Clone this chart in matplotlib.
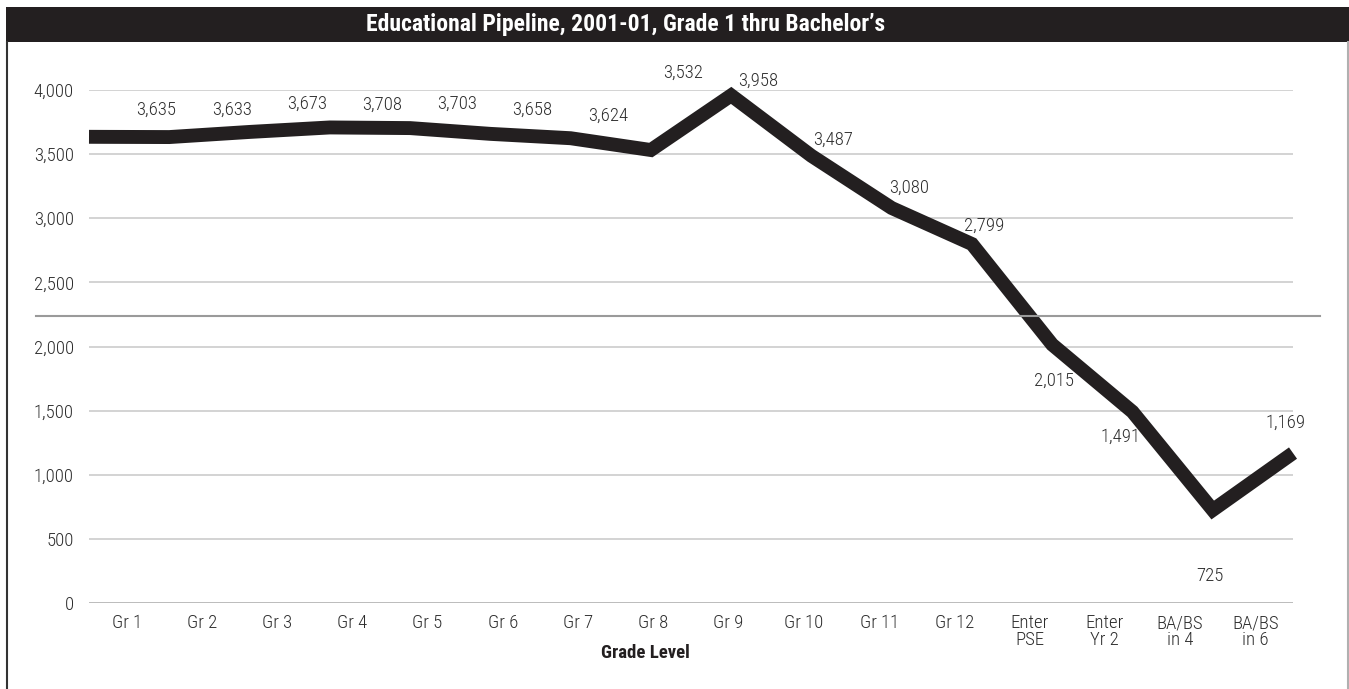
import matplotlib
matplotlib.use("Agg")
import matplotlib.pyplot as plt
from matplotlib.lines import Line2D
from matplotlib.patches import Rectangle
from matplotlib.ticker import FuncFormatter
import numpy as np

# enrolment counts along the pipeline
grades = ["Gr 1", "Gr 2", "Gr 3", "Gr 4", "Gr 5", "Gr 6", "Gr 7", "Gr 8",
          "Gr 9", "Gr 10", "Gr 11", "Gr 12", "Enter\nPSE", "Enter\nYr 2",
          "BA/BS\nin 4", "BA/BS\nin 6"]
students = [3635, 3633, 3673, 3708, 3703, 3658, 3624, 3532,
            3958, 3487, 3080, 2799, 2015, 1491, 725, 1169]
y_ticks = [0, 500, 1000, 1500, 2000, 2500, 3000, 3500, 4000]

# nudge of each value label, in pixels
label_dx = [0, 0, 0, 0, 0, 0, 0, 0, 0, 0, 0, 0, -5, -14, 0, 0]
label_dy = [27, 27, 28, 23, 24, 24, 22, 77, 15, 16, 20, 18, -36, -25, -66, 30]

TITLE = "Educational Pipeline, 2001-01, Grade 1 thru Bachelor\u2019s"
FONT = ["Liberation Sans Narrow", "Roboto Condensed", "Noto Sans Condensed",
        "Open Sans Condensed", "DejaVu Sans Condensed", "Noto Sans", "DejaVu Sans"]
INK = "#231f20"
TXT = "#2e2e2e"

plt.rcParams["font.family"] = FONT
plt.rcParams["font.stretch"] = "condensed"

W, H = 1349, 689
fig = plt.figure(figsize=(W / 100, H / 100), dpi=100)
ax = fig.add_axes([89 / W, 1 - 603 / H, 1204 / W, 513 / H])

n = len(students)
xs = np.arange(n)
ax.set_xlim(0, n - 1)
ax.set_ylim(0, 4000)

# category slots are spread evenly across the width, the line runs edge to edge
slot = (n - 1) / n
centers = (xs + 0.5) * slot

for v in y_ticks[1:]:
    ax.axhline(v, color="#c8c8c8", lw=1.1, zorder=1)
ax.axhline(0, color="#a8a8a8", lw=1.8, zorder=1)

ax.plot(xs, students, color=INK, lw=10, solid_joinstyle="miter",
        solid_capstyle="butt", zorder=3, clip_on=False)

for i, v in enumerate(students):
    ax.annotate(f"{v:,}", xy=(centers[i] + 0.37, v),
                xytext=(label_dx[i] * 0.72, label_dy[i] * 0.72),
                textcoords="offset points", ha="center", va="center",
                fontsize=13.5, fontweight="light", color=TXT,
                annotation_clip=False, zorder=4)

ax.set_yticks(y_ticks)
ax.yaxis.set_major_formatter(FuncFormatter(lambda v, p: f"{int(v):,}"))
ax.set_xticks(centers)
ax.set_xticklabels(grades, linespacing=0.95)
ax.tick_params(axis="both", length=0, labelsize=13.5, labelcolor=TXT)
for lab in ax.get_xticklabels() + ax.get_yticklabels():
    lab.set_fontweight("light")
ax.tick_params(axis="y", pad=11)
ax.tick_params(axis="x", pad=8)
for s in ax.spines.values():
    s.set_visible(False)

fig.text(645 / W, 1 - 653 / H, "Grade Level", ha="center", va="center",
         fontsize=13.5, fontweight="bold", color=INK)

# title band and frame
fig.add_artist(Rectangle((6 / W, 1 - 42 / H), 1 - 6 / W, 35 / H,
                         transform=fig.transFigure, color=INK, lw=0))
fig.text(626 / W, 1 - 24.5 / H, TITLE, ha="center", va="center",
         fontsize=17, fontweight="bold", color="white")
fig.add_artist(Line2D([6.5 / W, 6.5 / W], [0, 1 - 42 / H], color="#333333", lw=1.5))
fig.add_artist(Line2D([1 - 1.5 / W, 1 - 1.5 / W], [0, 1 - 42 / H], color="#b0b0b0", lw=1.5))
fig.add_artist(Line2D([36 / W, 1320 / W], [1 - 316 / H, 1 - 316 / H], color="#9a9a9a", lw=1.5))

fig.savefig("out.png", dpi=100)
